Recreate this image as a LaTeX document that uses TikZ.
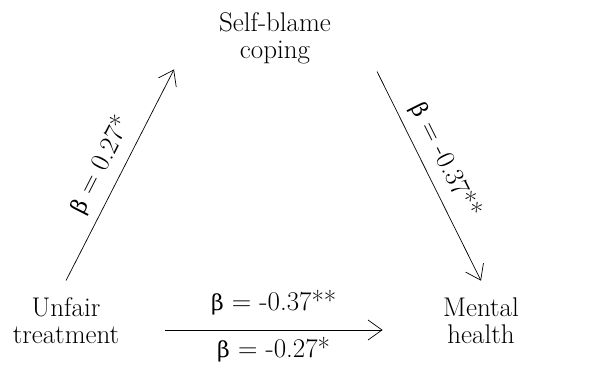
\documentclass[tikz,border=0pt]{standalone}
\usepackage{fontspec}
\usepackage{tikz}
\usetikzlibrary{arrows.meta, positioning}
\newfontfamily\grkfont{DejaVu Serif}
\newcommand{\bt}{{\grkfont\fontsize{22}{27}\selectfont β}}

\tikzset{
	var/.style={align=center, font=\fontsize{27}{27}\selectfont},
	coef/.style={font=\fontsize{27}{27}\selectfont},
	arr/.style={line width=0.7pt, -{Straight Barb[length=14pt, width=20pt, line width=0.7pt]}}
}

\begin{document}
\begin{tikzpicture}[x=1pt, y=1pt]
			% Frame and variables:
			\useasboundingbox (0, 0) rectangle (603, 371);
			\node[var](SB) at (275, 332.5){Self-blame\\coping};
			\node[var](UT) at (66, 50){Unfair\\treatment};
			\node[var](MH) at (481, 50){Mental\\health};
			% Paths:
			\draw[arr] ([yshift=13.8pt]UT.north) -- ([xshift=-101pt, yshift=-1.7pt]SB.south) node[coef, midway, sloped, above=6pt]{\bt{} = 0.27*};
			\draw[arr] ([xshift=102pt, yshift=-3.7pt]SB.south) -- ([yshift=13.8pt]MH.north) node[coef, pos=0.47, sloped, above=6pt]{\bt{} = -0.37**};
			\draw[arr] ([xshift=42pt, yshift=-9pt]UT.east) -- ([xshift=-57pt, yshift=-9pt]MH.west) node[coef, midway, above=11pt]{\bt{} = -0.37**} node[coef, midway, below=4pt]{\bt{} = -0.27*};
		\end{tikzpicture}
\end{document}
